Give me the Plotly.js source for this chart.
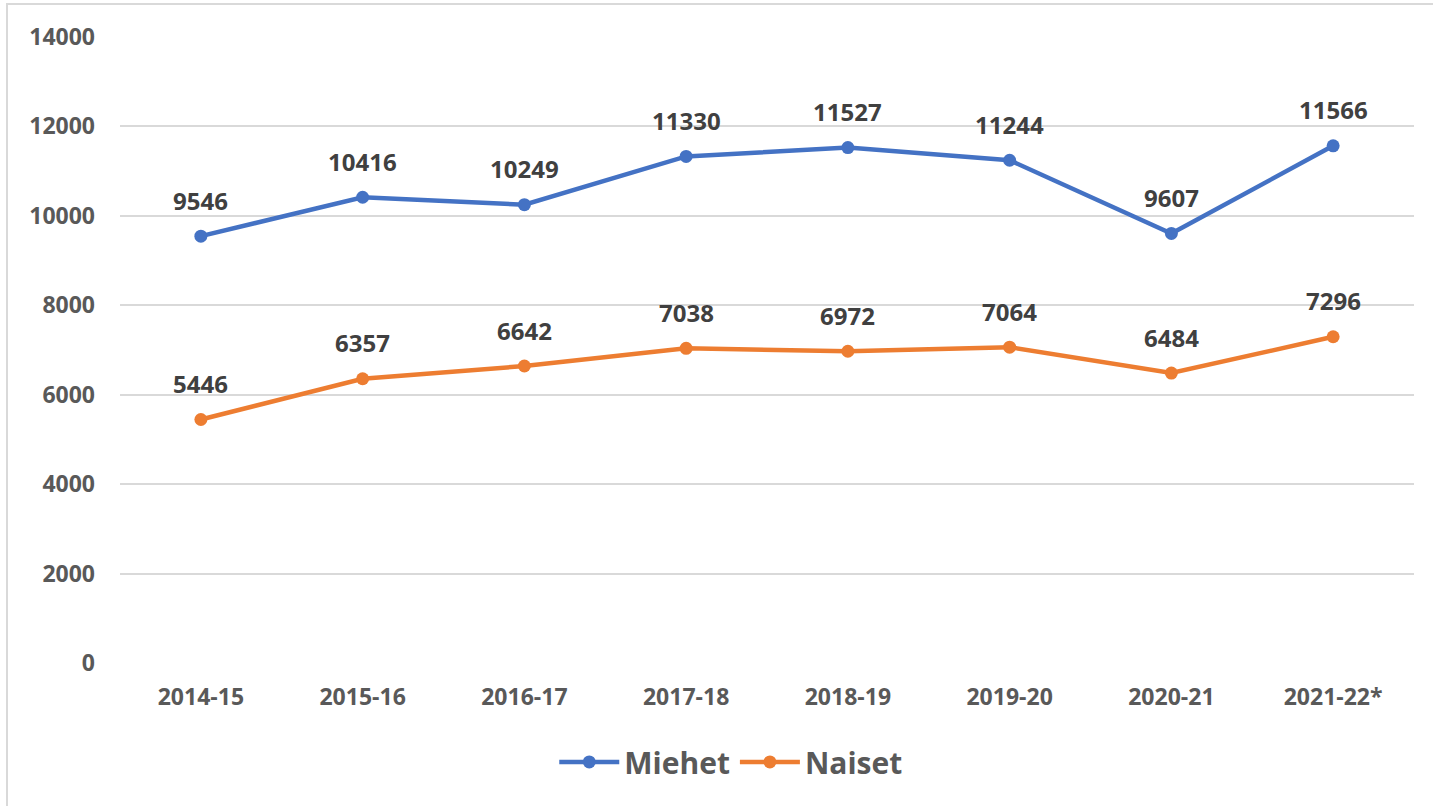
<!DOCTYPE html>
<html>
<head>
<meta charset="utf-8">
<script src="https://cdn.plot.ly/plotly-3.0.1.min.js"></script>
<style>
  html, body { margin: 0; padding: 0; background: #fff; }
  #frame { position: absolute; left: 6px; top: 3px; width: 1440px; height: 820px; border-left: 2px solid #d9d9d9; border-top: 2px solid #d9d9d9; pointer-events: none; }
  #chart { position: absolute; left: 0; top: 0; width: 1433px; height: 806px; }
</style>
</head>
<body>
<div id="chart"></div>
<div id="frame"></div>
<script>
const categories = ["2014-15", "2015-16", "2016-17", "2017-18", "2018-19", "2019-20", "2020-21", "2021-22*"];
const miehet = [9546, 10416, 10249, 11330, 11527, 11244, 9607, 11566];
const naiset = [5446, 6357, 6642, 7038, 6972, 7064, 6484, 7296];
const yTicks = [0, 2000, 4000, 6000, 8000, 10000, 12000, 14000];

const blue = "#4472c4";
const orange = "#ed7d31";
const font = "'Open Sans', 'DejaVu Sans', sans-serif";

const traces = [
  { x: categories, y: miehet, name: "Miehet", type: "scatter", mode: "lines+markers",
    line: { color: blue, width: 4.5 }, marker: { color: blue, size: 13 } },
  { x: categories, y: naiset, name: "Naiset", type: "scatter", mode: "lines+markers",
    line: { color: orange, width: 4.5 }, marker: { color: orange, size: 13 } }
];

const annotations = [];
[miehet, naiset].forEach((arr) => {
  arr.forEach((v, i) => {
    annotations.push({ x: categories[i], y: v, xref: "x", yref: "y", text: String(v),
      showarrow: false, yanchor: "middle", yshift: 36,
      font: { family: font, size: 24, color: "#404040", weight: "bold" } });
  });
});

const layout = {
  width: 1433, height: 806,
  margin: { l: 120, r: 19, t: 37, b: 143 },
  paper_bgcolor: "rgba(0,0,0,0)", plot_bgcolor: "#fff",
  showlegend: true,
  legend: { orientation: "h", x: 0.472, xanchor: "center", y: -0.158, yanchor: "middle",
    itemwidth: 60,
    font: { family: font, size: 30, color: "#595959", weight: "bold" } },
  xaxis: { type: "category", range: [-0.5, 7.5], showgrid: false, zeroline: false,
    showline: false, ticks: "", ticklabelstandoff: 18,
    tickfont: { family: font, size: 23, color: "#595959", weight: "bold" } },
  yaxis: { range: [0, 14000], tickvals: yTicks, ticktext: yTicks.map(String),
    showgrid: true, gridcolor: "#d9d9d9", gridwidth: 2, zeroline: false, showline: false,
    ticks: "", ticklabelstandoff: 24,
    tickfont: { family: font, size: 23, color: "#595959", weight: "bold" } },
  annotations: annotations,
  hovermode: false
};

Plotly.newPlot("chart", traces, layout, { displayModeBar: false, staticPlot: true });
</script>
</body>
</html>
